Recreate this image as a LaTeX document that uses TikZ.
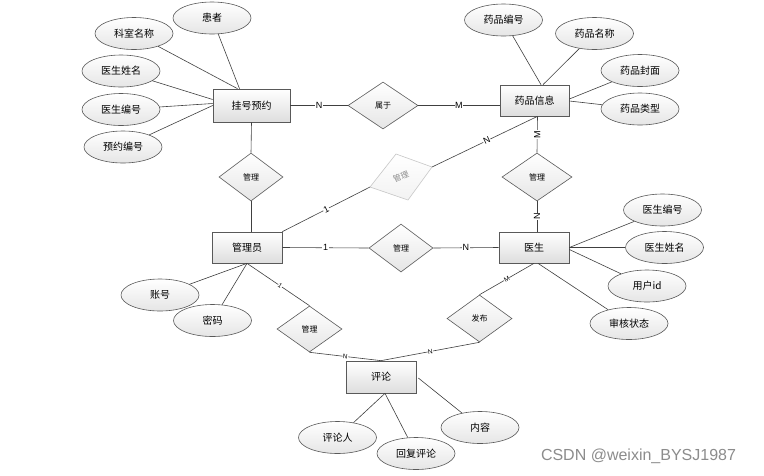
\documentclass[tikz,border=0pt]{standalone}
\usepackage{fontspec}
\setmainfont{Noto Sans CJK SC}
\newfontfamily\latinf{Liberation Sans}
\usetikzlibrary{shapes.geometric,calc}
\begin{document}
\begin{tikzpicture}[x=1pt,y=-1pt,
  ent/.style={draw=black!65,line width=0.7pt,top color=white,bottom color=black!13,minimum width=70pt,minimum height=31pt,inner sep=0pt,font=\fontsize{10}{12}\selectfont},
  attr/.style={ellipse,draw=black!65,line width=0.6pt,top color=white,bottom color=black!10,minimum width=78pt,minimum height=32pt,inner sep=0pt,font=\fontsize{10}{12}\selectfont},
  rel/.style={diamond,draw=black!65,line width=0.6pt,top color=white,bottom color=black!10,minimum width=65pt,minimum height=47pt,inner sep=0pt,font=\fontsize{8}{10}\selectfont},
  conn/.style={draw=black!75,line width=0.6pt},
  card/.style={fill=white,inner sep=0.6pt,font=\latinf\fontsize{9}{10}\selectfont},
  cards/.style={fill=white,inner sep=0.3pt,font=\latinf\fontsize{6.5}{7}\selectfont},
]
\useasboundingbox (0,0) rectangle (764,475);
\fill[white] (0,0) rectangle (764,475);

% entities
\node[ent,minimum width=77pt,minimum height=33pt] (reg) at (251.5,105.5) {挂号预约};
\node[ent,minimum width=69pt] (drug) at (534.5,100.5) {药品信息};
\node[ent] (admin) at (247,247.5) {管理员};
\node[ent] (doc) at (534,247.5) {医生};
\node[ent,minimum height=32pt] (cmt) at (381,377) {评论};

% relations
\node[rel,minimum width=70pt] (belong) at (383,105.5) {属于};
\node[rel,minimum width=64pt,minimum height=48pt] (mgL) at (251,177) {管理};
\node[rel,minimum width=70pt,minimum height=48pt] (mgR) at (537,177) {管理};
\node[rel,minimum width=64pt,minimum height=48pt] (mgM) at (401,248) {管理};
\node[rel,minimum height=46pt] (mgB) at (309.5,329) {管理};
\node[rel] (pub) at (479.5,318.5) {发布};

% faint skewed diamond
\coordinate (gt) at (396,154);
\coordinate (gr) at (432,167);
\coordinate (gb) at (408,200);
\coordinate (gl) at (370,187);
\draw[draw=black!22,line width=0.6pt,top color=white,bottom color=black!5] (gt)--(gr)--(gb)--(gl)--cycle;
\node[text=black!45,rotate=22,font=\fontsize{8}{10}\selectfont,inner sep=0pt] (gtxt) at (401,177) {管理};

% attributes of 挂号预约
\node[attr] (a1) at (212,18) {患者};
\node[attr] (a2) at (134,33.5) {科室名称};
\node[attr] (a3) at (121,71) {医生姓名};
\node[attr] (a4) at (121,109.5) {医生编号};
\node[attr] (a5) at (123,147) {预约编号};
\draw[conn] (a1) -- ($(reg.north)+(-12,0)$);
\draw[conn] (a2) -- ($(reg.north)+(-14,0)$);
\draw[conn] (a3) -- ($(reg.west)+(0,-6)$);
\draw[conn] (a4) -- ($(reg.west)+(0,-2)$);
\draw[conn] (a5) -- (reg.west);

% attributes of 药品信息
\node[attr] (b1) at (503.5,20) {药品编号};
\node[attr] (b2) at (594.5,33.5) {药品名称};
\node[attr] (b3) at (640,70.5) {药品封面};
\node[attr] (b4) at (640,109) {药品类型};
\draw[conn] (b1) -- ($(drug.north)+(6.5,0)$);
\draw[conn] (b2) -- ($(drug.north)+(8.5,0)$);
\draw[conn] (b3) -- ($(drug.east)+(0,-1.5)$);
\draw[conn] (b4) -- ($(drug.east)+(0,0.5)$);

% attributes of 医生
\node[attr] (c1) at (662.5,210) {医生编号};
\node[attr] (c2) at (664.5,247.5) {医生姓名};
\node[attr] (c3) at (647,286) {用户id};
\node[attr] (c4) at (629,323.5) {审核状态};
\draw[conn] (c1) -- (doc.east);
\draw[conn] (c2) -- (doc.east);
\draw[conn] (c3) -- ($(doc.east)+(0,2)$);
\draw[conn] (c4) -- ($(doc.south)+(4,0)$);

% attributes of 管理员
\node[attr] (d1) at (160,295) {账号};
\node[attr] (d2) at (212.5,320.5) {密码};
\draw[conn] (d1) -- (admin.south);
\draw[conn] (d2) -- (admin.south);

% attributes of 评论
\node[attr] (e1) at (337.5,437.5) {评论人};
\node[attr] (e2) at (416,453.5) {回复评论};
\node[attr] (e3) at (480,427.5) {内容};
\draw[conn] (e1) -- ($(cmt.south)+(4,0)$);
\draw[conn] (e2) -- ($(cmt.south)+(4,0)$);
\draw[conn] (e3) -- ($(cmt.east)+(2,1)$);

% relationship connectors
\draw[conn] (reg.east) -- node[card] {N} (belong.west);
\draw[conn] (belong.east) -- node[card] {M} (belong.east -| drug.west);
\draw[conn] (reg.south) -- (mgL.north);
\draw[conn] (mgL.south) -- (admin.north -| mgL.south);
\draw[conn] ($(drug.south)+(3,0)$) -- node[card,rotate=90] {M} (mgR.north);
\draw[conn] (mgR.south) -- node[card,rotate=90] {N} (mgR.south |- doc.north);
\draw[conn] (admin.east) -- node[card] {1} (mgM.west);
\draw[conn] (mgM.east) -- node[card] {N} (doc.west);
\draw[conn] (admin.north east) -- node[card,rotate=27] {1} (gl);
\draw[conn] (gr) -- node[card,pos=0.52,rotate=25] {N} ($(drug.south)+(3,0)$);
\draw[conn] (admin.south) -- node[cards,pos=0.53,rotate=-35] {1} (mgB.north);
\draw[conn] (mgB.south) -- node[cards,rotate=-7] {N} (cmt.north);
\draw[conn] (doc.south) -- node[cards,rotate=30] {M} (pub.north);
\draw[conn] (pub.south) -- node[cards,rotate=11] {N} (cmt.north);

% watermark
\node[text=black!45,font=\latinf\fontsize{16}{18}\selectfont,inner sep=0pt] (wm) at (638.5,456) {CSDN @weixin\_BYSJ1987};
\end{tikzpicture}
\end{document}
